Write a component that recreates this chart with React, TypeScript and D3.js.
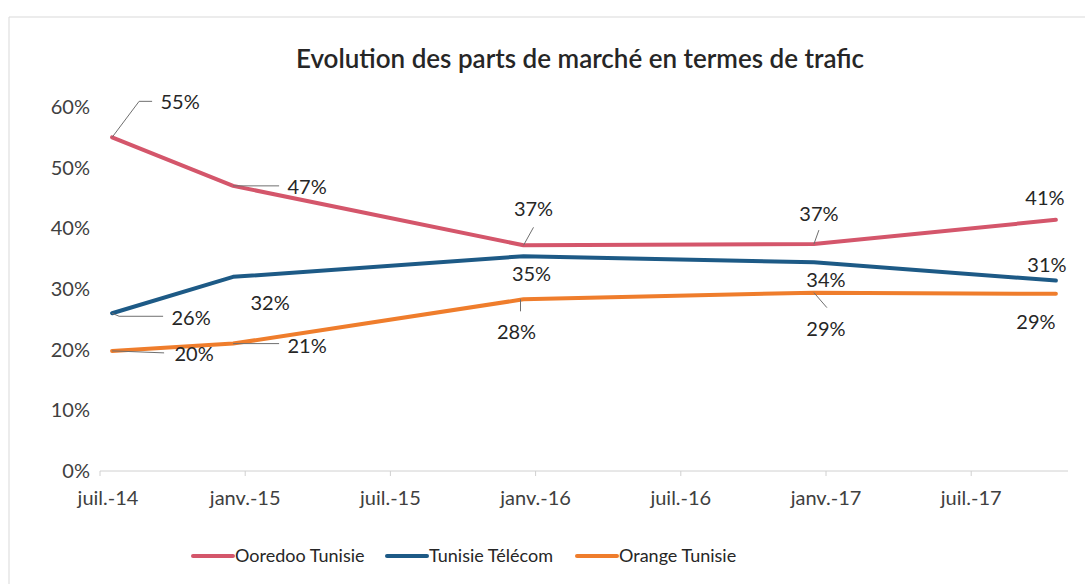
import React from "react";
import * as d3 from "d3";

const title = "Evolution des parts de marché en termes de trafic";
const seriesNames = ["Ooredoo Tunisie", "Tunisie Télécom", "Orange Tunisie"];
const pointDates = ["2014-07", "2014-12", "2015-12", "2016-12", "2017-10"];
const ooredoo = [0.55, 0.47, 0.372, 0.374, 0.414];
const tunisieTelecom = [0.26, 0.32, 0.354, 0.344, 0.314];
const orange = [0.198, 0.21, 0.283, 0.294, 0.292];
const yTicks = [0, 0.1, 0.2, 0.3, 0.4, 0.5, 0.6];
const xTickMonths = ["2014-07", "2015-01", "2015-07", "2016-01", "2016-07", "2017-01", "2017-07"];
const xTickLabels = ["juil.-14", "janv.-15", "juil.-15", "janv.-16", "juil.-16", "janv.-17", "juil.-17"];

// layout (label offsets relative to their point: text centre, and leader polyline)
const colors = ["#d4566b", "#1d5a86", "#ef7d2c"];
const labelOffsets = [
  [[68, -35], [74, 1], [10, -36], [5, -30], [-11, -22]],
  [[79, 5], [37, 26], [8, 18], [12, 18], [-9, -16]],
  [[82, 3], [74, 2], [-7, 33], [12, 36], [-20, 28]],
];
const leaders: (number[][] | null)[][] = [
  [[[0, 0], [27, -36], [40, -36]], [[0, 0], [46, 0]], [[0, 0], [10, -18]], [[0, 0], [5, -14]], null],
  [[[0, 0], [7, 3], [51, 3]], null, null, null, null],
  [[[0, 0], [52, 2]], [[0, 0], [46, 0]], [[-3, 0], [-3, 12]], [[0, 0], [13, 15]], null],
];

const FONT = "Lato, 'Noto Sans', sans-serif";

export default function App() {
  const W = 1085, H = 584;
  const start = new Date(2014, 6, 1);
  const parseM = d3.timeParse("%Y-%m");
  const mIdx = (s: string) => d3.timeMonth.count(start, parseM(s)!);
  const x = d3.scaleLinear().domain([0, 40]).range([100, 1068]);
  const y = d3.scaleLinear().domain([0, 0.6]).range([471, 107]);
  const series = [ooredoo, tunisieTelecom, orange];
  const line = d3
    .line<number>()
    .x((_, i) => x(mIdx(pointDates[i]) + 0.5))
    .y((v) => y(v));
  const fmt = d3.format(".0%");

  const legendX = [193, 387, 577];

  return (
    <svg width={W} height={H} style={{ position: "absolute", left: 0, top: 0, background: "#fff" }}>
      <rect x={0} y={0} width={W} height={H} fill="#fff" />
      {/* chart border */}
      <path d="M9,584 L9,17 L1085,17" fill="none" stroke="#d9d9d9" strokeWidth={1} />
      <text x={580} y={68} textAnchor="middle" fontFamily={FONT} fontWeight={600} fontSize={26} fill="#262626">
        {title}
      </text>
      {/* y axis labels */}
      {yTicks.map((t) => (
        <text key={t} x={90} y={y(t)} dy="0.35em" textAnchor="end" fontFamily={FONT} fontSize={20} fill="#404040">
          {fmt(t)}
        </text>
      ))}
      {/* x axis */}
      <line x1={x(0)} x2={x(40)} y1={y(0)} y2={y(0)} stroke="#d0d0d0" strokeWidth={1} />
      {xTickMonths.map((m, i) => (
        <g key={m}>
          <line x1={x(mIdx(m))} x2={x(mIdx(m))} y1={y(0)} y2={y(0) + 5} stroke="#d0d0d0" />
          <text x={x(mIdx(m)) + (i === 0 ? 8 : 0)} y={y(0) + 34} textAnchor="middle" fontFamily={FONT} fontSize={20} fill="#404040">
            {xTickLabels[i]}
          </text>
        </g>
      ))}
      {/* lines */}
      {series.map((s, si) => (
        <path key={si} d={line(s)!} fill="none" stroke={colors[si]} strokeWidth={4} strokeLinejoin="round" strokeLinecap="round" />
      ))}
      {/* leaders and labels */}
      {series.map((s, si) =>
        s.map((v, i) => {
          const px = x(mIdx(pointDates[i]) + 0.5);
          const py = y(v);
          const L = leaders[si][i];
          const [dx, dy] = labelOffsets[si][i];
          return (
            <g key={`${si}-${i}`}>
              {L && (
                <polyline
                  points={L.map(([a, b]) => `${px + a},${py + b}`).join(" ")}
                  fill="none"
                  stroke="#6f6f6f"
                  strokeWidth={1}
                />
              )}
              <text x={px + dx} y={py + dy} dy="0.35em" textAnchor="middle" fontFamily={FONT} fontSize={20} fill="#262626">
                {fmt(v)}
              </text>
            </g>
          );
        })
      )}
      {/* legend */}
      {seriesNames.map((n, i) => (
        <g key={n}>
          <line x1={legendX[i]} x2={legendX[i] + 40} y1={556} y2={556} stroke={colors[i]} strokeWidth={4} strokeLinecap="round" />
          <text x={legendX[i] + 42} y={556} dy="0.35em" fontFamily={FONT} fontSize={18} fill="#262626">
            {n}
          </text>
        </g>
      ))}
    </svg>
  );
}
